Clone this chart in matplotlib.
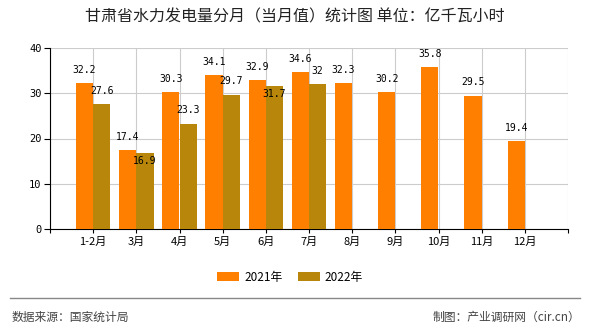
import matplotlib
matplotlib.use("Agg")
import matplotlib.pyplot as plt
import numpy as np

plt.rcParams["font.family"] = ["Noto Sans CJK SC", "DejaVu Sans"]

months = ["1-2月", "3月", "4月", "5月", "6月", "7月", "8月", "9月", "10月", "11月", "12月"]
vals_2021 = [32.2, 17.4, 30.3, 34.1, 32.9, 34.6, 32.3, 30.2, 35.8, 29.5, 19.4]
vals_2022 = [27.6, 16.9, 23.3, 29.7, 31.7, 32]
yticks = [0, 10, 20, 30, 40]

c21 = "#FF8000"
c22 = "#B8860B"

fig = plt.figure(figsize=(5.9, 3.3), dpi=100)
ax = fig.add_axes([50 / 590, 1 - 229 / 330, 518 / 590, 181 / 330])

x = np.arange(len(months))
w = 0.4
ax.bar(x - w / 2, vals_2021, width=w, color=c21, label="2021年", zorder=3)
x2 = x[:len(vals_2022)]
ax.bar(x2 + w / 2, vals_2022, width=w, color=c22, label="2022年", zorder=3)


def fmt(v):
    return str(int(v)) if float(v).is_integer() else str(v)


mono = ["DejaVu Sans Mono"]
for xi, v in zip(x, vals_2021):
    ax.text(xi - w / 2, v + 2.9, fmt(v), ha="center", va="center", fontsize=7,
            family=mono, zorder=4)
for xi, v in zip(x2, vals_2022):
    # label moves into the bar when it would hit the 2021 label
    y = v - 1.9 if abs(vals_2021[xi] - v) < 2 else v + 2.9
    ax.text(xi + w / 2, y, fmt(v), ha="center", va="center", fontsize=7,
            family=mono, zorder=4)

ax.set_xlim(-1, len(months))
ax.set_ylim(0, 40)
ax.set_yticks(yticks)
ax.set_yticklabels([str(t) for t in yticks], family=mono, fontsize=7.5)
ax.set_xticks(np.arange(-1, len(months) + 1))
ax.set_xticklabels([""] + months + [""], fontsize=8)
ax.tick_params(axis="y", length=4, width=0.8, pad=2)
ax.tick_params(axis="x", length=3, width=0.8, pad=3)
ax.grid(True, color="#CCCCCC", linewidth=0.8, zorder=0)
for s in ["top", "right"]:
    ax.spines[s].set_visible(False)
ax.spines["left"].set_linewidth(0.8)
ax.spines["bottom"].set_linewidth(0.8)

fig.text(0.5, 1 - 17 / 330, "甘肃省水力发电量分月（当月值）统计图 单位：亿千瓦小时",
         ha="center", va="center", fontsize=11.5, color="#222222")

handles, labels = ax.get_legend_handles_labels()
fig.legend(handles, labels, loc="center", bbox_to_anchor=(0.492, 1 - 277 / 330), ncol=2,
           frameon=False, fontsize=8.5, handlelength=1.86, handleheight=0.76,
           columnspacing=1.35, handletextpad=0.4)

fig.add_artist(plt.Line2D([10 / 590, 580 / 590], [1 - 298 / 330] * 2,
                          color="#888888", linewidth=1, transform=fig.transFigure))
fig.text(12 / 590, 1 - 317 / 330, "数据来源：国家统计局", ha="left", va="center",
         fontsize=8.5, color="#444444")
fig.text(580 / 590, 1 - 317 / 330, "制图：产业调研网（cir.cn）", ha="right", va="center",
         fontsize=8.5, color="#444444")

fig.savefig("out.png", dpi=100)
